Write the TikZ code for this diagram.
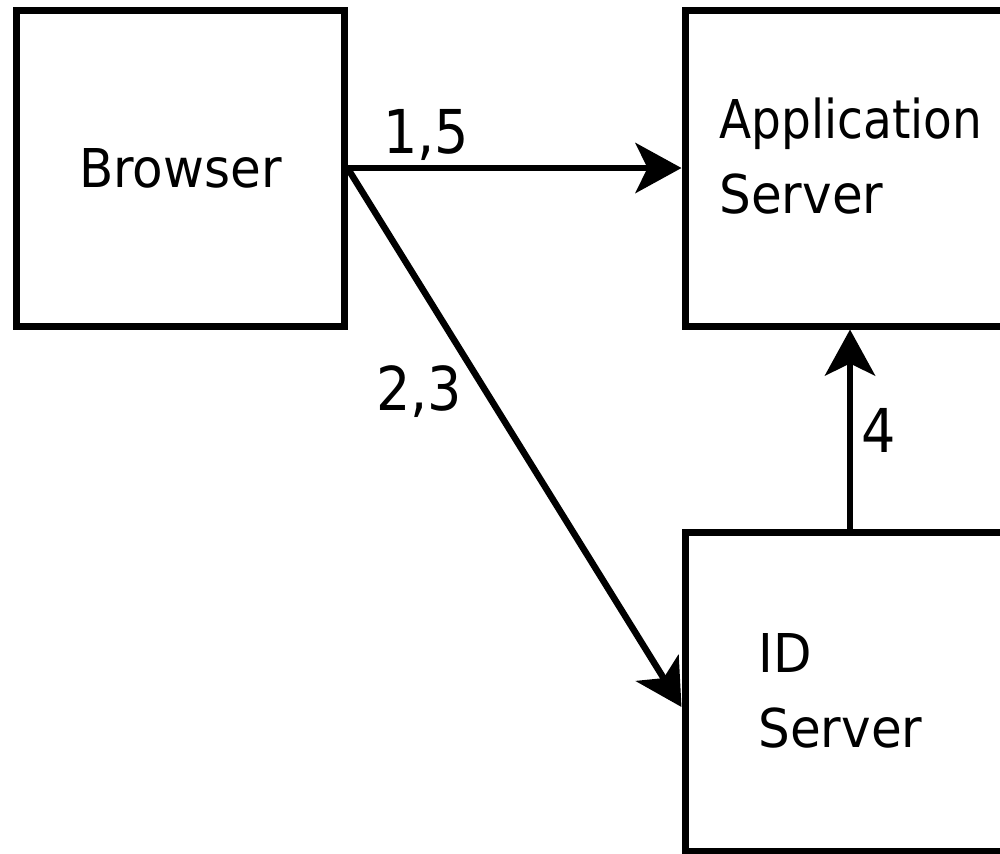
\documentclass[tikz,border=0pt]{standalone}
\usepackage{fontspec}
\setmainfont{DejaVu Sans}
\usetikzlibrary{arrows.meta}
\tikzset{
  box/.style={draw=black, line width=3.5pt, rectangle, inner sep=0pt, fill=white},
  boxtext/.style={font=\fontsize{25pt}{30pt}\selectfont, inner sep=0pt, text=black},
  lbl/.style={font=\fontsize{27pt}{32pt}\selectfont, inner sep=0pt, text=black},
  conn/.style={line width=3.25pt, -{Stealth[length=23pt, width=25pt, inset=6pt]}}
}
\newcommand{\vs}[3]{\scalebox{#1}[#2]{#3}}
\begin{document}
\begin{tikzpicture}[x=0.5pt, y=-0.5pt]
  \useasboundingbox (0,0) rectangle (1000,853);
  \fill[white] (0,0) rectangle (1000,853);
  \clip (0,0) rectangle (1000,853);
  % boxes
  \node[box, minimum width=164pt, minimum height=158pt] (browser) at (180,168) {};
  \node[box, minimum width=165pt, minimum height=158pt] (app) at (850,168) {};
  \node[box, minimum width=165pt, minimum height=159.5pt] (idbox) at (850,691.5) {};
  % texts
  \node[boxtext, anchor=base] (browsertext) at (180.5,187) {\vs{1}{1.07}{Browser}};
  \node[boxtext, anchor=base west] (apptext1) at (719,138) {\vs{0.94}{1.07}{Application}};
  \node[boxtext, anchor=base west] (apptext2) at (719,213) {\vs{1}{1.07}{Server}};
  \node[boxtext, anchor=base west] (idtext1) at (758,672) {\vs{1}{1.07}{ID}};
  \node[boxtext, anchor=base west] (idtext2) at (758,747) {\vs{1}{1.07}{Server}};
  % connectors
  \draw[conn] (browser.east) -- (app.west);
  \draw[conn] (browser.east) -- ([yshift=-7.75pt]idbox.west);
  \draw[conn] (idbox.north) -- (app.south);
  % labels
  \node[lbl, anchor=base] (l15) at (426,153) {\vs{1}{1.12}{1,5}};
  \node[lbl, anchor=base] (l23) at (419,410) {\vs{1}{1.12}{2,3}};
  \node[lbl, anchor=base] (l4) at (878.5,452) {\vs{1}{1.12}{4}};
\end{tikzpicture}
\end{document}
